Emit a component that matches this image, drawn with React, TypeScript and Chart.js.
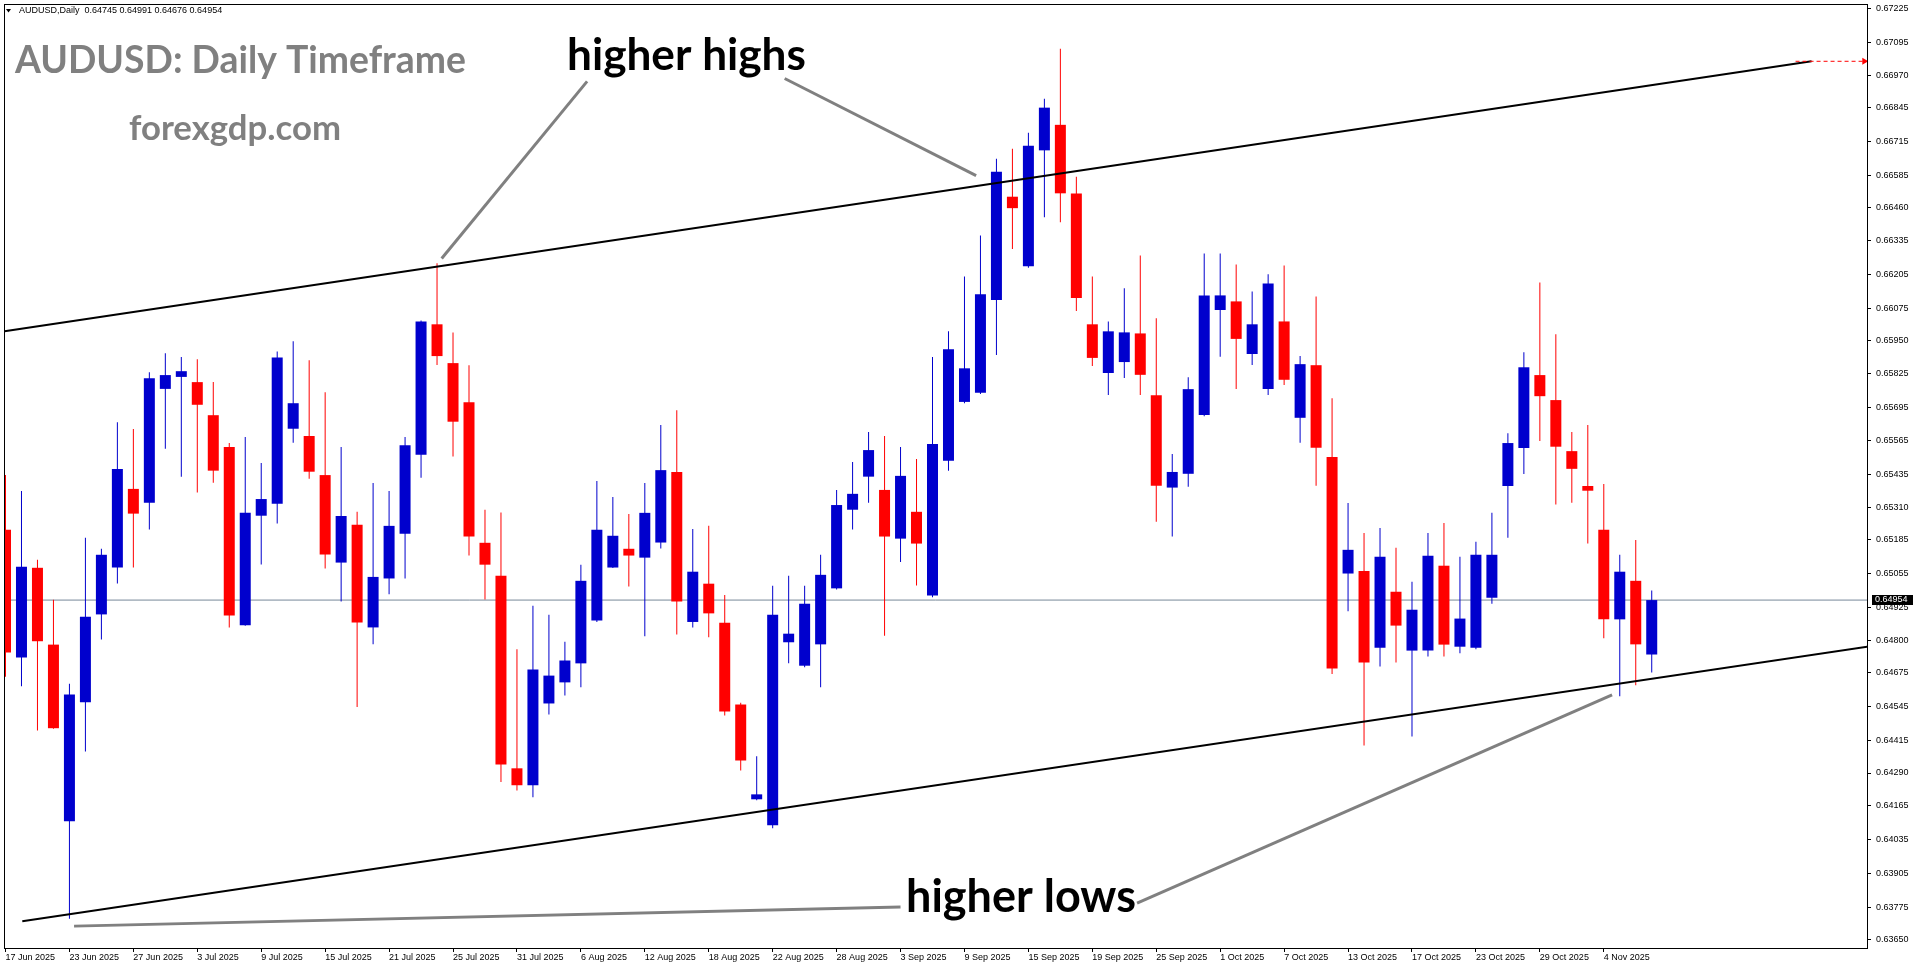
import React, { useEffect, useRef } from "react";
import { Chart, registerables } from "chart.js";

Chart.register(...registerables);

// ---- Daily AUDUSD candles (17 Jun 2025 .. 7 Nov 2025) ----
const opens = [
  0.65224, 0.64734, 0.65078, 0.64783, 0.64105, 0.64562, 0.64899, 0.65079, 0.65381, 0.65328,
  0.65765, 0.65811, 0.65791, 0.65664, 0.65542, 0.64857, 0.65278, 0.65324, 0.65612, 0.65584,
  0.65434, 0.65098, 0.65243, 0.64849, 0.65037, 0.65209, 0.65512, 0.66013, 0.65864, 0.65714,
  0.65174, 0.65047, 0.64308, 0.64243, 0.64557, 0.64638, 0.64711, 0.64876, 0.65079, 0.65151,
  0.65117, 0.65175, 0.65446, 0.64870, 0.65017, 0.64867, 0.64553, 0.64189, 0.64089, 0.64792,
  0.64702, 0.64784, 0.64999, 0.65301, 0.65428, 0.65377, 0.65190, 0.65293, 0.64972, 0.65489,
  0.65715, 0.65750, 0.66106, 0.66503, 0.66236, 0.66681, 0.66779, 0.66515, 0.66013, 0.65826,
  0.65868, 0.65978, 0.65741, 0.65386, 0.65439, 0.65665, 0.66068, 0.66101, 0.65899, 0.65765,
  0.66024, 0.65654, 0.65856, 0.65503, 0.65056, 0.65066, 0.64771, 0.64986, 0.64760, 0.64760,
  0.65086, 0.64775, 0.64771, 0.64963, 0.65392, 0.65538, 0.65818, 0.65722, 0.65526, 0.65392,
  0.65224, 0.64880, 0.65028, 0.64745,
];
const highs = [
  0.65434, 0.65373, 0.65109, 0.64955, 0.64633, 0.65193, 0.65151, 0.65637, 0.65611, 0.65829,
  0.65902, 0.65887, 0.65879, 0.65791, 0.65557, 0.65580, 0.65480, 0.65909, 0.65948, 0.65875,
  0.65752, 0.65542, 0.65293, 0.65404, 0.65373, 0.65580, 0.66028, 0.66247, 0.65982, 0.65856,
  0.65301, 0.65290, 0.64765, 0.64932, 0.64898, 0.64794, 0.65090, 0.65411, 0.65350, 0.65285,
  0.65404, 0.65626, 0.65683, 0.65227, 0.65239, 0.64974, 0.64560, 0.64354, 0.65009, 0.65047,
  0.65009, 0.65128, 0.65377, 0.65484, 0.65599, 0.65584, 0.65542, 0.65496, 0.65887, 0.65986,
  0.66197, 0.66354, 0.66649, 0.66687, 0.66749, 0.66879, 0.67071, 0.66580, 0.66197, 0.66024,
  0.66151, 0.66277, 0.66036, 0.65515, 0.65810, 0.66285, 0.66285, 0.66243, 0.66139, 0.66205,
  0.66239, 0.65891, 0.66120, 0.65729, 0.65327, 0.65212, 0.65231, 0.65155, 0.65024, 0.65212,
  0.65250, 0.65120, 0.65178, 0.65289, 0.65595, 0.65906, 0.66174, 0.65975, 0.65599, 0.65626,
  0.65400, 0.65128, 0.65185, 0.64991,
];
const lows = [
  0.64660, 0.64623, 0.64453, 0.64460, 0.63730, 0.64373, 0.64803, 0.65018, 0.65079, 0.65225,
  0.65535, 0.65428, 0.65367, 0.65405, 0.64849, 0.64855, 0.65091, 0.65248, 0.65558, 0.65420,
  0.65075, 0.64949, 0.64543, 0.64784, 0.64976, 0.65037, 0.65424, 0.65857, 0.65505, 0.65125,
  0.64956, 0.64255, 0.64223, 0.64197, 0.64515, 0.64588, 0.64619, 0.64870, 0.65077, 0.65006,
  0.64815, 0.65152, 0.64822, 0.64849, 0.64811, 0.64511, 0.64300, 0.64185, 0.64078, 0.64711,
  0.64696, 0.64619, 0.64995, 0.65225, 0.65328, 0.64817, 0.65100, 0.65010, 0.64965, 0.65451,
  0.65710, 0.65745, 0.65895, 0.66302, 0.66230, 0.66424, 0.66405, 0.66064, 0.65853, 0.65742,
  0.65807, 0.65742, 0.65255, 0.65198, 0.65389, 0.65660, 0.65888, 0.65765, 0.65857, 0.65742,
  0.65780, 0.65558, 0.65393, 0.64670, 0.64911, 0.64396, 0.64699, 0.64714, 0.64430, 0.64737,
  0.64737, 0.64750, 0.64765, 0.64940, 0.65193, 0.65438, 0.65565, 0.65321, 0.65328, 0.65171,
  0.64807, 0.64585, 0.64627, 0.64676,
];
const closes = [
  0.64753, 0.65082, 0.64796, 0.64462, 0.64591, 0.64890, 0.65128, 0.65457, 0.65286, 0.65806,
  0.65818, 0.65833, 0.65704, 0.65451, 0.64895, 0.65289, 0.65342, 0.65886, 0.65710, 0.65447,
  0.65129, 0.65277, 0.64868, 0.65043, 0.65239, 0.65549, 0.66024, 0.65891, 0.65639, 0.65198,
  0.65090, 0.64323, 0.64243, 0.64687, 0.64664, 0.64722, 0.65028, 0.65224, 0.65201, 0.65125,
  0.65289, 0.65453, 0.64949, 0.65063, 0.64903, 0.64526, 0.64338, 0.64208, 0.64898, 0.64825,
  0.64940, 0.65051, 0.65319, 0.65362, 0.65530, 0.65198, 0.65431, 0.65171, 0.65553, 0.65917,
  0.65844, 0.66128, 0.66599, 0.66459, 0.66699, 0.66845, 0.66516, 0.66114, 0.65884, 0.65986,
  0.65982, 0.65819, 0.65393, 0.65446, 0.65764, 0.66124, 0.66124, 0.65957, 0.66013, 0.66170,
  0.65800, 0.65860, 0.65539, 0.64691, 0.65147, 0.64714, 0.65120, 0.64856, 0.64917, 0.65124,
  0.64783, 0.64883, 0.65128, 0.65128, 0.65557, 0.65848, 0.65737, 0.65543, 0.65458, 0.65374,
  0.64880, 0.65063, 0.64784, 0.64954,
];

// date labels, one every TICK_STEP bars
const dateTickLabels = [
  "17 Jun 2025", "23 Jun 2025", "27 Jun 2025", "3 Jul 2025", "9 Jul 2025", "15 Jul 2025",
  "21 Jul 2025", "25 Jul 2025", "31 Jul 2025", "6 Aug 2025", "12 Aug 2025", "18 Aug 2025",
  "22 Aug 2025", "28 Aug 2025", "3 Sep 2025", "9 Sep 2025", "15 Sep 2025", "19 Sep 2025",
  "25 Sep 2025", "1 Oct 2025", "7 Oct 2025", "13 Oct 2025", "17 Oct 2025", "23 Oct 2025",
  "29 Oct 2025", "4 Nov 2025",
];
const TICK_STEP = 4;

const priceTicks = [
  0.67225, 0.67095, 0.6697, 0.66845, 0.66715, 0.66585, 0.6646, 0.66335, 0.66205, 0.66075,
  0.6595, 0.65825, 0.65695, 0.65565, 0.65435, 0.6531, 0.65185, 0.65055, 0.64925, 0.648,
  0.64675, 0.64545, 0.64415, 0.6429, 0.64165, 0.64035, 0.63905, 0.63775, 0.6365,
];

// drawn objects (bar index, price)
const upperChannel = [{ x: -0.06, y: 0.65986 }, { x: 113.0, y: 0.67023 }];
const lowerChannel = [{ x: 1.05, y: 0.63721 }, { x: 116.6, y: 0.64776 }];
const projection = [{ x: 112.0, y: 0.67023 }, { x: 116.3, y: 0.67023 }];
const highsPointerLeft = [{ x: 36.39, y: 0.66946 }, { x: 27.29, y: 0.66266 }];
const highsPointerRight = [{ x: 48.75, y: 0.66957 }, { x: 60.73, y: 0.66584 }];
const lowsPointerLeft = [{ x: 4.29, y: 0.63702 }, { x: 56.0, y: 0.63775 }];
const lowsPointerRight = [{ x: 70.8, y: 0.6379 }, { x: 100.52, y: 0.6459 }];

const X_MIN = -0.09375;
const X_MAX = 116.46875;
const Y_MIN = 0.63618;
const Y_MAX = 0.67243;

const BULL = "#0000CD";
const BEAR = "#FF0000";
const TICK_FONT = '"Liberation Sans", Arial, sans-serif';
const BIG_FONT = 'Lato, "Open Sans", sans-serif';

function fitFont(ctx: CanvasRenderingContext2D, text: string, width: number) {
  ctx.font = `bold 100px ${BIG_FONT}`;
  const w = ctx.measureText(text).width;
  const size = (100 * width) / w;
  ctx.font = `bold ${size}px ${BIG_FONT}`;
}

const overlayPlugin = {
  id: "overlay",
  afterDraw(chart: any) {
    const { ctx, chartArea: a, scales } = chart;
    const n = closes.length - 1;
    ctx.save();
    // frame
    ctx.strokeStyle = "#000";
    ctx.lineWidth = 1;
    ctx.strokeRect(a.left + 0.5, a.top + 0.5, a.right - a.left, a.bottom - a.top);

    // header
    ctx.fillStyle = "#000";
    ctx.beginPath();
    ctx.moveTo(6, 9);
    ctx.lineTo(11, 9);
    ctx.lineTo(8.5, 12.5);
    ctx.closePath();
    ctx.fill();
    ctx.font = `9px ${TICK_FONT}`;
    ctx.textBaseline = "middle";
    ctx.textAlign = "left";
    const header = `AUDUSD,Daily  ${opens[n].toFixed(5)} ${highs[n].toFixed(5)} ${lows[n].toFixed(5)} ${closes[n].toFixed(5)}`;
    ctx.fillText(header, 19, 11);

    // price box
    const last = closes[n];
    const py = Math.round(scales.y.getPixelForValue(last));
    ctx.fillStyle = "#000";
    ctx.fillRect(a.right + 5, py - 5, 41, 10);
    ctx.fillStyle = "#fff";
    ctx.fillText(last.toFixed(5), a.right + 8, py);

    // texts
    ctx.textBaseline = "alphabetic";
    ctx.fillStyle = "#808080";
    fitFont(ctx, "AUDUSD: Daily Timeframe", 451);
    ctx.fillText("AUDUSD: Daily Timeframe", 15, 73);
    fitFont(ctx, "forexgdp.com", 212);
    ctx.fillText("forexgdp.com", 129, 140);
    ctx.fillStyle = "#000";
    fitFont(ctx, "higher highs", 239);
    ctx.fillText("higher highs", 567, 70);
    fitFont(ctx, "higher lows", 230);
    ctx.fillText("higher lows", 906, 912);
    ctx.restore();
  },
};

function lineDs(data: any[], color: string, width: number, order: number, extra: any = {}) {
  return {
    type: "line" as const,
    data,
    borderColor: color,
    borderWidth: width,
    pointRadius: 0,
    pointHoverRadius: 0,
    tension: 0,
    fill: false,
    order,
    ...extra,
  };
}

export default function App() {
  const ref = useRef<HTMLCanvasElement>(null);

  useEffect(() => {
    let chart: Chart | null = null;
    let cancelled = false;
    const candleColors = opens.map((o, i) => (closes[i] >= o ? BULL : BEAR));
    const last = closes[closes.length - 1];

    const build = () => {
      if (cancelled || !ref.current) return;
      chart = new Chart(ref.current, {
        type: "bar",
        data: {
          datasets: [
            lineDs([{ x: X_MIN, y: last }, { x: X_MAX, y: last }], "#778899", 1, 10),
            {
              type: "bar",
              data: lows.map((l, i) => ({ x: i, y: [l, highs[i]] })),
              backgroundColor: candleColors,
              barThickness: 1,
              grouped: false,
              inflateAmount: 0,
              minBarLength: 1,
              borderWidth: 0,
              order: 6,
            } as any,
            {
              type: "bar",
              data: opens.map((o, i) => ({ x: i, y: [o, closes[i]] })),
              backgroundColor: candleColors,
              barThickness: 11,
              grouped: false,
              inflateAmount: 0,
              minBarLength: 1,
              borderWidth: 0,
              order: 5,
            } as any,
            lineDs(upperChannel, "#000", 2, 2),
            lineDs(lowerChannel, "#000", 2, 2),
            lineDs(highsPointerLeft, "#808080", 3, 1),
            lineDs(highsPointerRight, "#808080", 3, 1),
            lineDs(lowsPointerLeft, "#808080", 3, 1),
            lineDs(lowsPointerRight, "#808080", 3, 1),
            lineDs(projection, "#FF0000", 1, 1, {
              borderDash: [4, 3],
              pointRadius: [0, 4],
              pointStyle: "triangle",
              rotation: 90,
              pointBackgroundColor: "#FF0000",
              pointBorderColor: "#FF0000",
              pointBorderWidth: 0,
            }),
          ] as any,
        },
        options: {
          animation: false,
          responsive: true,
          maintainAspectRatio: false,
          devicePixelRatio: 1,
          events: [],
          layout: { padding: { left: 2, top: 2, right: 0, bottom: 0 } },
          plugins: { legend: { display: false }, tooltip: { enabled: false } },
          scales: {
            x: {
              type: "linear",
              position: "bottom",
              min: X_MIN,
              max: X_MAX,
              offset: false,
              grid: { display: true, drawOnChartArea: false, drawTicks: true, tickLength: 4, color: "#000", offset: false },
              border: { display: false },
              ticks: {
                autoSkip: false,
                maxRotation: 0,
                minRotation: 0,
                align: "start",
                padding: 0,
                color: "#000",
                font: { family: TICK_FONT, size: 9 },
                callback: (v: any) => dateTickLabels[Math.round(Number(v) / TICK_STEP)] ?? "",
              },
              afterBuildTicks: (s: any) => {
                s.ticks = dateTickLabels.map((_, k) => ({ value: k * TICK_STEP }));
              },
              afterFit: (s: any) => {
                s.height = 16;
                s.paddingLeft = 0;
                s.paddingRight = 0;
              },
            },
            y: {
              type: "linear",
              position: "right",
              min: Y_MIN,
              max: Y_MAX,
              beginAtZero: false,
              grid: { display: true, drawOnChartArea: false, drawTicks: true, tickLength: 4, color: "#000" },
              border: { display: false },
              ticks: {
                autoSkip: false,
                padding: 5,
                color: "#000",
                font: { family: TICK_FONT, size: 9 },
                callback: (v: any) => Number(v).toFixed(5),
              },
              afterBuildTicks: (s: any) => {
                s.ticks = priceTicks.map((v) => ({ value: v }));
              },
              afterFit: (s: any) => {
                s.width = 49;
                s.paddingTop = 0;
                s.paddingBottom = 0;
              },
            },
          },
        } as any,
        plugins: [overlayPlugin],
      });
    };

    const fontLoads = [
      `bold 40px Lato`,
      `9px "Liberation Sans"`,
    ].map((f) => (document as any).fonts?.load?.(f) ?? Promise.resolve());
    Promise.all(fontLoads).catch(() => null).then(build);

    return () => {
      cancelled = true;
      if (chart) chart.destroy();
    };
  }, []);

  return (
    <div style={{ position: "fixed", left: 0, top: 0, width: 1916, height: 964, background: "#fff" }}>
      <canvas ref={ref} />
    </div>
  );
}
